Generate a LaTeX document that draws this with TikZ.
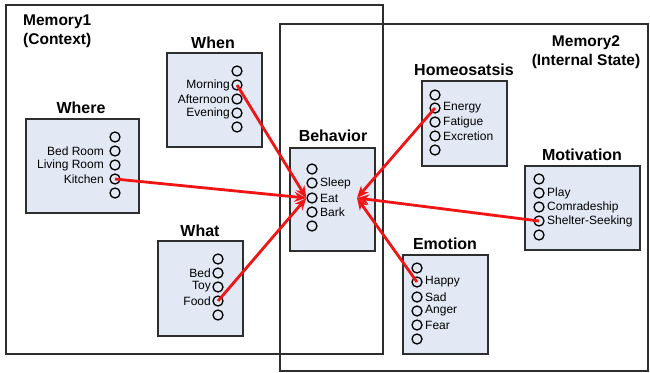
\documentclass[tikz,border=0pt]{standalone}
\usepackage{fontspec}
\setmainfont{Liberation Sans}
\usetikzlibrary{arrows.meta}
\definecolor{boxfill}{HTML}{E2E9F5}
\definecolor{linegray}{HTML}{2E2E2E}
\definecolor{arrowred}{HTML}{F01414}
\tikzset{
  frame/.style={draw=linegray, line width=1.7pt},
  panel/.style={draw=linegray, fill=boxfill, line width=1.7pt, anchor=north west, inner sep=0pt},
  title/.style={font=\fontsize{16}{18}\selectfont\bfseries, inner sep=0pt},
  memlabel/.style={font=\fontsize{15.5}{19}\selectfont\bfseries, inner sep=0pt, align=center},
  port/.style={circle, draw=black, line width=1.3pt, minimum size=10pt, inner sep=0pt},
  lblL/.style={font=\fontsize{12}{13}\selectfont, inner sep=0pt, anchor=east},
  lblR/.style={font=\fontsize{12}{13}\selectfont, inner sep=0pt, anchor=west},
  link/.style={draw=arrowred, line width=2.8pt, -{Stealth[length=12pt,width=10pt]}},
}
\begin{document}
\begin{tikzpicture}[x=1pt,y=-1pt]
\useasboundingbox (0,0) rectangle (650,372);
% outer memories
\draw[frame] (6,5) rectangle (383,354);
\draw[frame] (280,24) -- (648,24) -- (648,371) -- (280,371) -- cycle;
\node[memlabel, anchor=north west, align=left] (m1) at (23,15) {Memory1\\(Context)};
\node[memlabel] (m2) at (586,52) {Memory2\\(Internal State)};

% Where
\node[panel, minimum width=113pt, minimum height=94pt] (where) at (25,118) {};
\node[title] (whereT) at (81,108) {Where};
\foreach \i/\y in {1/137,2/151,3/165,4/179,5/193} \node[port] (wr\i) at (115,\y) {};
\node[lblL] at (104,151) {Bed Room};
\node[lblL] at (104,165) {Living Room};
\node[lblL] at (104,179) {Kitchen};

% When
\node[panel, minimum width=95pt, minimum height=94pt] (when) at (166,52) {};
\node[title] (whenT) at (213,43) {When};
\foreach \i/\y in {1/71,2/85,3/99,4/113,5/127} \node[port] (wn\i) at (237,\y) {};
\node[lblL] at (230,85) {Morning};
\node[lblL] at (230,99) {Afternoon};
\node[lblL] at (230,113) {Evening};

% What
\node[panel, minimum width=85pt, minimum height=95pt] (what) at (157,240) {};
\node[title] (whatT) at (200,231) {What};
\foreach \i/\y in {1/259,2/273,3/287,4/301,5/315} \node[port] (wt\i) at (218,\y) {};
\node[lblL] at (211,273) {Bed};
\node[lblL] at (211,287) {Toy};
\node[lblL] at (211,301) {Food};

% Behavior
\node[panel, minimum width=85pt, minimum height=103pt] (beh) at (289,147) {};
\node[title] (behT) at (333,136) {Behavior};
\foreach \i/\y in {1/169,2/183,3/198,4/212,5/226} \node[port] (bh\i) at (312,\y) {};
\node[lblR] at (320,183) {Sleep};
\node[lblR] at (320,198) {Eat};
\node[lblR] at (320,212) {Bark};
\coordinate (eatR) at (357,198);

% Homeosatsis
\node[panel, minimum width=85pt, minimum height=85pt] (hom) at (421,80) {};
\node[title] (homT) at (464,70) {Homeosatsis};
\foreach \i/\y in {1/95,2/108,3/122,4/136,5/150} \node[port] (hm\i) at (435,\y) {};
\node[lblR] at (443,108) {Energy};
\node[lblR] at (443,122) {Fatigue};
\node[lblR] at (443,136) {Excretion};

% Motivation
\node[panel, minimum width=115pt, minimum height=84pt] (mot) at (524,165) {};
\node[title] (motT) at (582,155) {Motivation};
\foreach \i/\y in {1/179,2/193,3/207,4/221,5/235} \node[port] (mv\i) at (539,\y) {};
\node[lblR] at (547,193) {Play};
\node[lblR] at (547,207) {Comradeship};
\node[lblR] at (547,221) {Shelter-Seeking};

% Emotion
\node[panel, minimum width=85pt, minimum height=99pt] (emo) at (402,254) {};
\node[title] (emoT) at (445,244) {Emotion};
\foreach \i/\y in {1/268,2/282,3/297,4/311,5/325,6/339} \node[port] (em\i) at (417,\y) {};
\node[lblR] at (425,282) {Happy};
\node[lblR] at (425,297) {Sad};
\node[lblR] at (425,311) {Anger};
\node[lblR] at (425,325) {Fear};

% links
\draw[link] (wr4.center) -- (bh3.west);
\draw[link] (wn2.center) -- (bh3.west);
\draw[link] (wt4.center) -- (bh3.west);
\draw[link] (hm2.center) -- (eatR);
\draw[link] (mv4.center) -- (eatR);
\draw[link] (em2.center) -- (eatR);
\end{tikzpicture}
\end{document}
